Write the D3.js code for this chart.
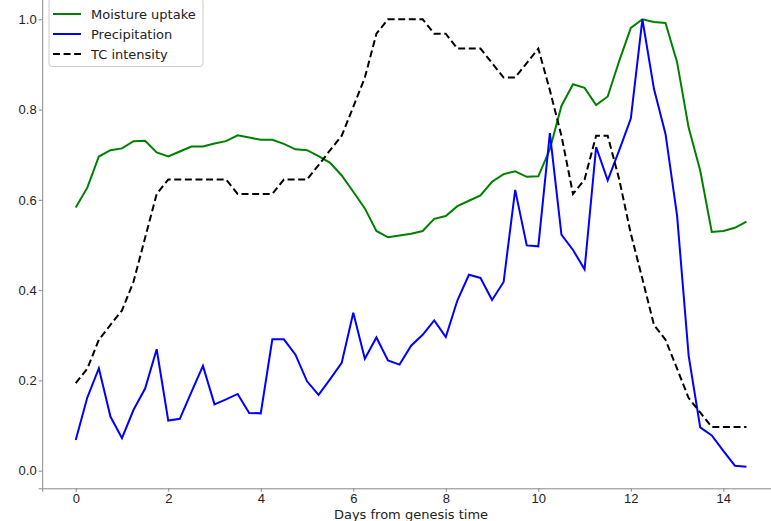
<!DOCTYPE html>
<html><head>
<meta charset="utf-8">
<style>
body { margin: 0; background: #fff; }
svg { font-family: "DejaVu Sans", sans-serif; display: block; }
.axis path, .axis line { stroke: #888; }
.axis text { fill: #222; font-size: 13px; }
</style>
</head><body>
<svg width="771" height="521"></svg>
<script src="https://d3js.org/d3.v7.min.js"></script>
<script>

// days from genesis, every 6 hours
var days = d3.range(0, 59).map(function(i) { return i * 0.25; });

var moisture = [0.583, 0.627, 0.696, 0.710, 0.714, 0.730, 0.731, 0.705, 0.696, 0.707,
  0.718, 0.718, 0.725, 0.730, 0.743, 0.738, 0.733, 0.733, 0.724, 0.712,
  0.710, 0.697, 0.682, 0.654, 0.618, 0.581, 0.531, 0.517, 0.521, 0.525,
  0.531, 0.558, 0.564, 0.586, 0.598, 0.610, 0.640, 0.657, 0.663, 0.651,
  0.652, 0.712, 0.808, 0.856, 0.848, 0.810, 0.829, 0.908, 0.981, 1.000,
  0.994, 0.992, 0.905, 0.760, 0.665, 0.529, 0.531, 0.538, 0.552];

var precip = [0.068, 0.162, 0.227, 0.120, 0.072, 0.135, 0.182, 0.269, 0.111, 0.115,
  0.174, 0.232, 0.147, 0.158, 0.170, 0.128, 0.127, 0.291, 0.291, 0.257,
  0.198, 0.168, 0.203, 0.239, 0.350, 0.248, 0.295, 0.244, 0.235, 0.277,
  0.301, 0.333, 0.296, 0.377, 0.434, 0.427, 0.378, 0.418, 0.622, 0.499,
  0.497, 0.748, 0.523, 0.489, 0.446, 0.717, 0.643, 0.710, 0.780, 1.000,
  0.846, 0.746, 0.565, 0.255, 0.096, 0.078, 0.044, 0.011, 0.009];

var tcIntensity = [0.194, 0.226, 0.290, 0.323, 0.355, 0.419, 0.516, 0.613, 0.645, 0.645,
  0.645, 0.645, 0.645, 0.645, 0.613, 0.613, 0.613, 0.613, 0.645, 0.645,
  0.645, 0.677, 0.710, 0.742, 0.806, 0.871, 0.968, 1.000, 1.000, 1.000,
  1.000, 0.968, 0.968, 0.935, 0.935, 0.935, 0.903, 0.871, 0.871, 0.903,
  0.935, 0.843, 0.742, 0.613, 0.645, 0.742, 0.742, 0.645, 0.525, 0.425,
  0.323, 0.290, 0.226, 0.161, 0.129, 0.097, 0.097, 0.097, 0.097];

var seriesNames = ["Moisture uptake", "Precipitation", "TC intensity"];
var xTicks = [0, 2, 4, 6, 8, 10, 12, 14];
var yTicks = [0.0, 0.2, 0.4, 0.6, 0.8, 1.0];

var svg = d3.select("svg");

// axes area runs off the right and top edge of the picture, like the original crop
var x = d3.scaleLinear().domain([-0.725, 15.225]).range([42.2, 780]),
    y = d3.scaleLinear().domain([-0.039, 1.05]).range([488.3, -3.3]);

var series = [
  {name: seriesNames[0], values: moisture, color: "#008000", dash: null},
  {name: seriesNames[1], values: precip, color: "#0000ff", dash: null},
  {name: seriesNames[2], values: tcIntensity, color: "#000", dash: "7,3.6"}
];

var line = d3.line()
    .x(function(d) { return x(d[0]); })
    .y(function(d) { return y(d[1]); });

svg.selectAll(".series")
  .data(series)
  .enter().append("path")
    .attr("class", "series")
    .attr("fill", "none")
    .attr("stroke", function(d) { return d.color; })
    .attr("stroke-width", 2)
    .attr("stroke-dasharray", function(d) { return d.dash; })
    .attr("d", function(d) { return line(d3.zip(days, d.values)); });

svg.append("g")
    .attr("class", "axis")
    .attr("transform", "translate(0," + y.range()[0] + ")")
    .call(d3.axisBottom(x).tickValues(xTicks).tickSizeOuter(0).tickSize(3.5).tickPadding(1.5));

svg.append("g")
    .attr("class", "axis")
    .attr("transform", "translate(" + x.range()[0] + ",0)")
    .call(d3.axisLeft(y).tickValues(yTicks).tickFormat(d3.format(".1f")).tickSizeOuter(0).tickSize(3.5).tickPadding(2));

svg.append("text")
    .attr("x", 411)
    .attr("y", 518.5)
    .attr("text-anchor", "middle")
    .attr("fill", "#222")
    .style("font-size", "13px")
    .text("Days from genesis time");

// legend
var legend = svg.append("g");

legend.append("rect")
    .attr("x", 49)
    .attr("y", -1.5)
    .attr("width", 154)
    .attr("height", 68)
    .attr("rx", 3)
    .attr("fill", "#fff")
    .attr("fill-opacity", 0.8)
    .attr("stroke", "#ccc");

var item = legend.selectAll(".item")
  .data(series)
  .enter().append("g")
    .attr("class", "item")
    .attr("transform", function(d, i) { return "translate(0," + (14 + i * 20) + ")"; });

item.append("line")
    .attr("x1", 53)
    .attr("x2", 81)
    .attr("stroke", function(d) { return d.color; })
    .attr("stroke-width", 2)
    .attr("stroke-dasharray", function(d) { return d.dash; });

item.append("text")
    .attr("x", 91)
    .attr("dy", "0.35em")
    .attr("fill", "#222")
    .style("font-size", "13px")
    .text(function(d) { return d.name; });

</script>
</body></html>
